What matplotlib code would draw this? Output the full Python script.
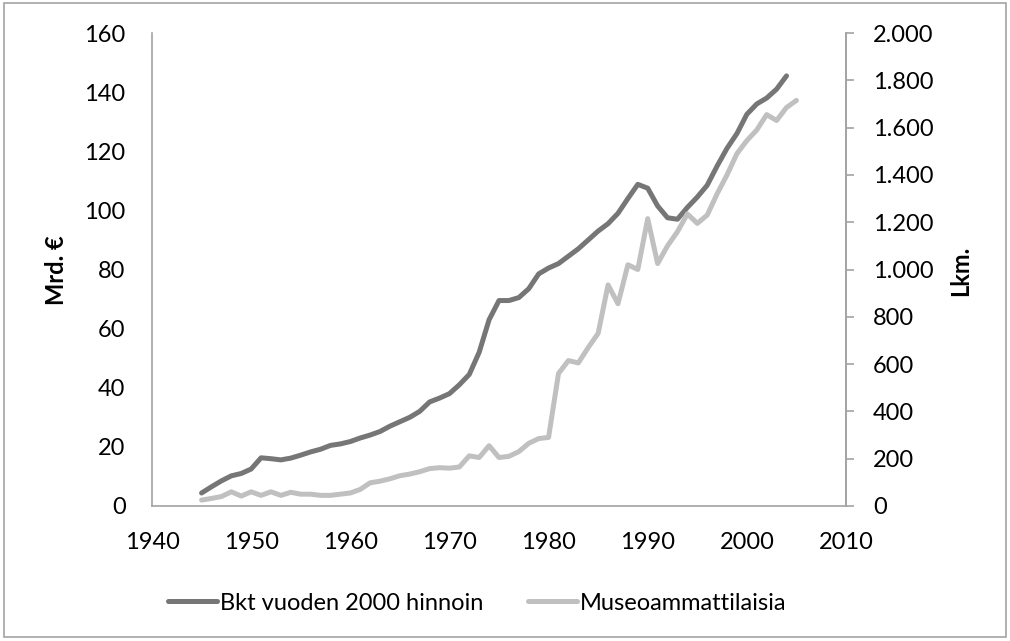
import matplotlib
matplotlib.use("Agg")
import matplotlib.pyplot as plt
from matplotlib.ticker import FuncFormatter, MultipleLocator
from matplotlib.patches import Rectangle

plt.rcParams['font.family'] = ['Lato', 'DejaVu Sans']

gdp_years = list(range(1945, 2005))
gdp = [4.4, 6.5, 8.5, 10.2, 11.0, 12.5, 16.3, 16.0, 15.6, 16.2,
       17.2, 18.3, 19.2, 20.5, 21.0, 21.8, 23.0, 24.0, 25.2, 27.0,
       28.5, 30.0, 32.0, 35.2, 36.5, 38.0, 41.0, 44.5, 52.0, 63.0,
       69.5, 69.5, 70.5, 73.5, 78.5, 80.5, 82.0, 84.5, 87.0, 90.0,
       93.0, 95.5, 99.0, 104.0, 108.8, 107.5, 101.5, 97.5, 97.0, 101.0,
       104.5, 108.5, 115.0, 121.0, 126.0, 132.5, 136.0, 138.0, 141.0, 145.5]

museo_years = list(range(1945, 2006))
museo = [25, 32, 40, 60, 42, 60, 45, 60, 45, 58,
         50, 50, 45, 45, 50, 55, 70, 98, 105, 115,
         128, 135, 145, 158, 162, 160, 165, 212, 205, 255,
         205, 210, 230, 265, 285, 290, 560, 615, 605, 670,
         730, 935, 855, 1020, 1000, 1215, 1025, 1100, 1160, 1235,
         1195, 1230, 1320, 1400, 1490, 1545, 1590, 1655, 1630, 1685,
         1715]

series_names = ["Bkt vuoden 2000 hinnoin", "Museoammattilaisia"]
left_label = "Mrd. €"
right_label = "Lkm."

W, H = 1010, 641
fig = plt.figure(figsize=(W / 100, H / 100), dpi=100)
ax = fig.add_axes([152 / W, 1 - 506 / H, (846 - 152) / W, (506 - 33) / H])
ax2 = ax.twinx()

dark = '#767676'
light = '#c0c0c0'
spine_c = '#a3a3a3'
fs = 17

l1, = ax.plot(gdp_years, gdp, color=dark, lw=3.6, solid_capstyle='round',
              solid_joinstyle='round', label=series_names[0])
l2, = ax2.plot(museo_years, museo, color=light, lw=3.6, solid_capstyle='round',
               solid_joinstyle='round', label=series_names[1])

ax.set_xlim(1940, 2010)
ax.set_ylim(0, 160)
ax2.set_ylim(0, 2000)
ax.xaxis.set_major_locator(MultipleLocator(10))
ax.yaxis.set_major_locator(MultipleLocator(20))
ax2.yaxis.set_major_locator(MultipleLocator(200))
ax2.yaxis.set_major_formatter(FuncFormatter(lambda v, p: f"{int(v):,}".replace(',', '.')))

for a in (ax, ax2):
    a.spines['top'].set_visible(False)
    for s in ('left', 'right', 'bottom'):
        a.spines[s].set_color(spine_c)
        a.spines[s].set_linewidth(1.2)
    a.set_facecolor('none')
ax2.spines['left'].set_visible(False)
ax2.spines['bottom'].set_visible(False)

ax.tick_params(axis='x', length=0, pad=19, labelsize=fs, colors='black')
ax.tick_params(axis='y', length=0, pad=19, labelsize=fs, colors='black')
ax2.tick_params(axis='y', length=6, width=1.2, color=spine_c, pad=13.5,
                labelsize=fs, labelcolor='black', direction='out')

fig.text(57 / W, 1 - 270 / H, left_label, rotation=90, ha='center', va='center',
         fontsize=fs, fontweight='bold')
fig.text(961 / W, 1 - 271 / H, right_label, rotation=90, ha='center', va='center',
         fontsize=fs, fontweight='bold')

leg = fig.legend([l1, l2], series_names, loc='center', bbox_to_anchor=(477 / W, 1 - 603 / H),
                 ncol=2, frameon=False, fontsize=fs, handlelength=2.1,
                 handletextpad=0.1, columnspacing=1.9)

fig.patches.append(Rectangle((4 / W, 4 / H), 1002 / W, 634 / H, transform=fig.transFigure,
                             fill=False, edgecolor=spine_c, lw=1.2))

fig.savefig('out.png', dpi=100)
